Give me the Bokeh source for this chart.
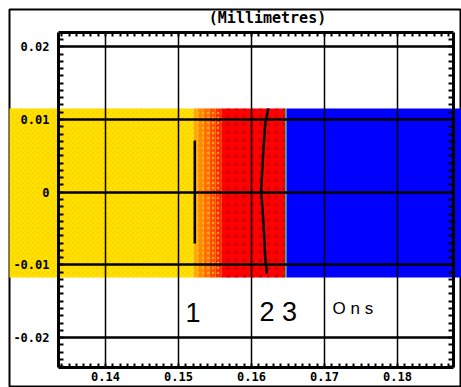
import numpy as np
from bokeh.plotting import figure
from bokeh.models import (LinearAxis, FixedTicker, CustomJSTickFormatter, Range1d, Label)
from bokeh.core.properties import value
from bokeh.embed import file_html
from bokeh.resources import INLINE

# ---------------- data ----------------
x_ticks = [0.14, 0.15, 0.16, 0.17, 0.18]
y_ticks = [-0.02, -0.01, 0.0, 0.01, 0.02]

# visible window and the boxed axes region (mm)
x_view = (0.126849, 0.188767)
y_view = (-0.026864, 0.025131)
x_box = (0.133562, 0.187671)
y_box = (-0.024113, 0.021967)

x_minor = [float(v) for v in np.round(np.arange(0.134, 0.1875, 0.001), 4)]
y_minor = [float(v) for v in np.round(np.arange(-0.024, 0.0215, 0.001), 4)]

# colour bands of the field (left/right edges in mm)
band_left = [0.1200, 0.15206, 0.15260, 0.15342, 0.15425, 0.15507, 0.15589, 0.16459, 0.16480]
band_right = [0.15206, 0.15260, 0.15342, 0.15425, 0.15507, 0.15589, 0.16459, 0.16480, 0.2000]
band_color = ["#FFE400", "#FFAA00", "#FF8A00", "#FF6C00", "#FF4C00", "#FF2A00", "#FF0000", "#30C070", "#0000FF"]
band_top = 0.011513
band_bottom = -0.011733

# front line 1 (straight) and front line 2 (wiggly)
front1_x = [0.152233, 0.152233]
front1_y = [0.00711, -0.00706]
front2_x = [0.162288, 0.161877, 0.161562, 0.161329, 0.161644, 0.161877, 0.162110]
front2_y = [0.011513, 0.009450, 0.004773, 0.000234, -0.004305, -0.008982, -0.011183]

label_text = ["1", "2 3", "O n s"]
label_x = [0.150959, 0.161096, 0.171096]
label_y = [-0.016547, -0.016547, -0.015997]

title_text = "(Millimetres)"
title_x = 0.16219
title_y = 0.023961

# ---------------- figure ----------------
p = figure(width=461, height=387, output_backend="svg", toolbar_location=None,
           x_range=Range1d(*x_view), y_range=Range1d(*y_view),
           x_axis_location=None, y_axis_location=None,
           min_border_left=9, min_border_right=0, min_border_top=9, min_border_bottom=0)
p.outline_line_color = "black"
p.outline_line_width = 2
p.background_fill_color = "white"
p.border_fill_color = "white"
p.xgrid.visible = False
p.ygrid.visible = False

tick_fmt = CustomJSTickFormatter(code="return Math.abs(tick) < 1e-9 ? '0' : tick.toFixed(2);")

def make_axis(major, minor, bounds, loc, tick_len, tick_w, minor_len, standoff):
    ax = LinearAxis(ticker=FixedTicker(ticks=major, minor_ticks=minor),
                    formatter=tick_fmt, bounds=bounds, fixed_location=loc)
    ax.axis_line_color = "black"
    ax.axis_line_width = 3
    ax.major_tick_in = tick_len
    ax.major_tick_out = 0
    ax.minor_tick_in = minor_len
    ax.minor_tick_out = 0
    ax.major_tick_line_width = tick_w
    ax.minor_tick_line_width = 2
    ax.major_tick_line_color = "black"
    ax.minor_tick_line_color = "black"
    ax.major_label_text_font = "DejaVu Sans Mono"
    ax.major_label_text_font_style = "bold"
    ax.major_label_text_font_size = "12px"
    ax.major_label_text_color = "black"
    ax.major_label_standoff = standoff
    return ax

# bottom & left axes carry the grid lines as full-length inner ticks
p.add_layout(make_axis(x_ticks, x_minor, x_box, y_box[0], 335, 1.5, 4, 4), "below")
p.add_layout(make_axis(y_ticks, y_minor, y_box, x_box[0], 395, 2.5, 5, 9), "left")
p.add_layout(make_axis([], x_minor, x_box, y_box[1], 0, 1, 4, 0), "above")
p.add_layout(make_axis([], y_minor, y_box, x_box[1], 0, 1, 5, 0), "right")

# colour field
p.quad(left=band_left, right=band_right, top=band_top, bottom=band_bottom,
       fill_color=band_color, line_color=None)
p.quad(left=band_left[0], right=band_right[0], top=band_top, bottom=band_bottom,
       fill_color=None, line_color=None, hatch_pattern="x", hatch_color="#FFB400",
       hatch_scale=5, hatch_weight=0.8, hatch_alpha=0.55)
p.quad(left=band_left[2:6], right=band_right[2:6], top=band_top, bottom=band_bottom,
       fill_color=None, line_color=None, hatch_pattern=".", hatch_color="#FFC000",
       hatch_scale=5, hatch_weight=1, hatch_alpha=0.8)
p.quad(left=band_left[6], right=band_right[6], top=band_top, bottom=band_bottom,
       fill_color=None, line_color=None, hatch_pattern=".", hatch_color="#B00010",
       hatch_scale=8, hatch_weight=1, hatch_alpha=0.55)

# front lines
p.line(front1_x, front1_y, line_color="black", line_width=2.5)
p.line(front2_x, front2_y, line_color="black", line_width=2.5)

# labels
p.text(x=label_x[:2], y=label_y[:2], text=label_text[:2], text_font=value("Liberation Sans"),
       text_font_size="27px", text_color="black", text_baseline="alphabetic", text_align="left")
p.text(x=label_x[2:], y=label_y[2:], text=label_text[2:], text_font=value("Liberation Sans"),
       text_font_size="17px", text_color="black", text_baseline="alphabetic", text_align="left")

# title
p.add_layout(Label(x=title_x, y=title_y, text=title_text, text_align="center",
                   text_baseline="middle", text_font="DejaVu Sans Mono",
                   text_font_style="bold", text_font_size="15px", text_color="black"))

open("out.html", "w").write(file_html(p, INLINE))
